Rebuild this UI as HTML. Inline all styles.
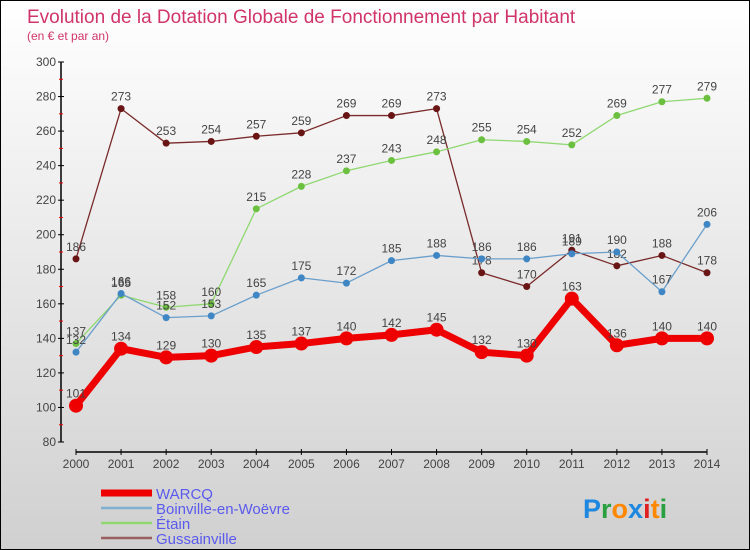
<!DOCTYPE html>
<html><head><meta charset="utf-8">
<style>
body{margin:0;}
#wrap{width:750px;height:550px;position:relative;background:linear-gradient(#ffffff,#d0d0d0);box-sizing:border-box;border:1px solid #000;font-family:"Liberation Sans",sans-serif;overflow:hidden;}
svg{position:absolute;left:0;top:0;}
</style></head><body>
<div id="wrap">
<svg id="c" width="750" height="550">
<text x="26" y="22" font-size="19" fill="#d0346a">Evolution de la Dotation Globale de Fonctionnement par Habitant</text>
<text x="26" y="39" font-size="12" fill="#d0346a">(en € et par an)</text>
</svg>
</div>
<script>
const years=[2000,2001,2002,2003,2004,2005,2006,2007,2008,2009,2010,2011,2012,2013,2014];
const warcq=[101,134,129,130,135,137,140,142,145,132,130,163,136,140,140];
const boinville=[132,166,152,153,165,175,172,185,188,186,186,189,190,167,206];
const etain=[137,165,158,160,215,228,237,243,248,255,254,252,269,277,279];
const gussainville=[186,273,253,254,257,259,269,269,273,178,170,191,182,188,178];
const yTicks=[80,100,120,140,160,180,200,220,240,260,280,300];
const NS="http://www.w3.org/2000/svg";
const svg=document.getElementById('c');
const xs=i=>75+i*(706-75)/(years.length-1);
const ys=v=>441-(v-80)*(380/220);
function el(t,a,p){const e=document.createElementNS(NS,t);for(const k in a)e.setAttribute(k,a[k]);(p||svg).appendChild(e);return e;}
// axes
let ax=el('g',{});


el('line',{x1:60,y1:61,x2:60,y2:441,stroke:'#000','stroke-width':1.5},ax);
yTicks.forEach((v,i)=>{
  el('line',{x1:57,y1:ys(v),x2:63,y2:ys(v),stroke:'#000'},ax);
  if(i<yTicks.length-1) el('line',{x1:58,y1:ys(v+10),x2:62,y2:ys(v+10),stroke:'#e00'},ax);
  const t=el('text',{x:55,y:ys(v)+4,'text-anchor':'end','font-size':12,fill:'#444'},ax);t.textContent=v;
});
let xa=el('g',{});


el('line',{x1:75,y1:451,x2:706,y2:451,stroke:'#000','stroke-width':1.5},xa);
years.forEach((y,i)=>{
  el('line',{x1:xs(i),y1:448,x2:xs(i),y2:454,stroke:'#000'},xa);
  const t=el('text',{x:xs(i),y:467,'text-anchor':'middle','font-size':12,fill:'#444'},xa);t.textContent=y;
});
function series(name,data,color,dot,w,r,lblColor){
  const g=el('g',{});
  
  
  el('polyline',{points:data.map((v,i)=>xs(i)+','+ys(v)).join(' '),fill:'none',stroke:color,'stroke-width':w,'stroke-linejoin':'round'},g);
  data.forEach((v,i)=>{
    const c=el('circle',{cx:xs(i),cy:ys(v),r:r,fill:dot},g);
    
    
    const t=el('text',{x:xs(i),y:ys(v)-8,'text-anchor':'middle','font-size':12,fill:lblColor},g);t.textContent=v;
  });
}
series('gussainville',gussainville,'#7a2a2a','#6a1515',1.3,3.5,'#444');
series('etain',etain,'#8fd870','#6cc040',1.3,3.5,'#444');
series('boinville',boinville,'#6a9fcc','#3f86c4',1.3,3.5,'#444');
series('warcq',warcq,'#ee0000','#ee0000',7,7,'#444');
// legend
const leg=[['WARCQ','#ee0000',7],['Boinville-en-Woëvre','#7fb0d0',2.5],['Étain','#8fd870',2.5],['Gussainville','#9a6060',2.5]];
leg.forEach((l,i)=>{
  const g=el('g',{});
  
  
  const y=492+i*15;
  el('line',{x1:100,y1:y,x2:151,y2:y,stroke:l[1],'stroke-width':l[2]},g);
  const t=el('text',{x:155,y:y+6,'font-size':15,fill:'#5a5aee'},g);t.textContent=l[0];
});
const logo=el('text',{x:582,y:517,'font-size':27,'font-weight':'bold'});


[['P','#1e88e0'],['r','#2aa040'],['o','#ff8800'],['x','#1e88e0'],['i','#e02020'],['t','#ff8800'],['i','#2aa040']].forEach(p=>{const s=el('tspan',{fill:p[1]},logo);s.textContent=p[0];});
</script>
</body></html>
